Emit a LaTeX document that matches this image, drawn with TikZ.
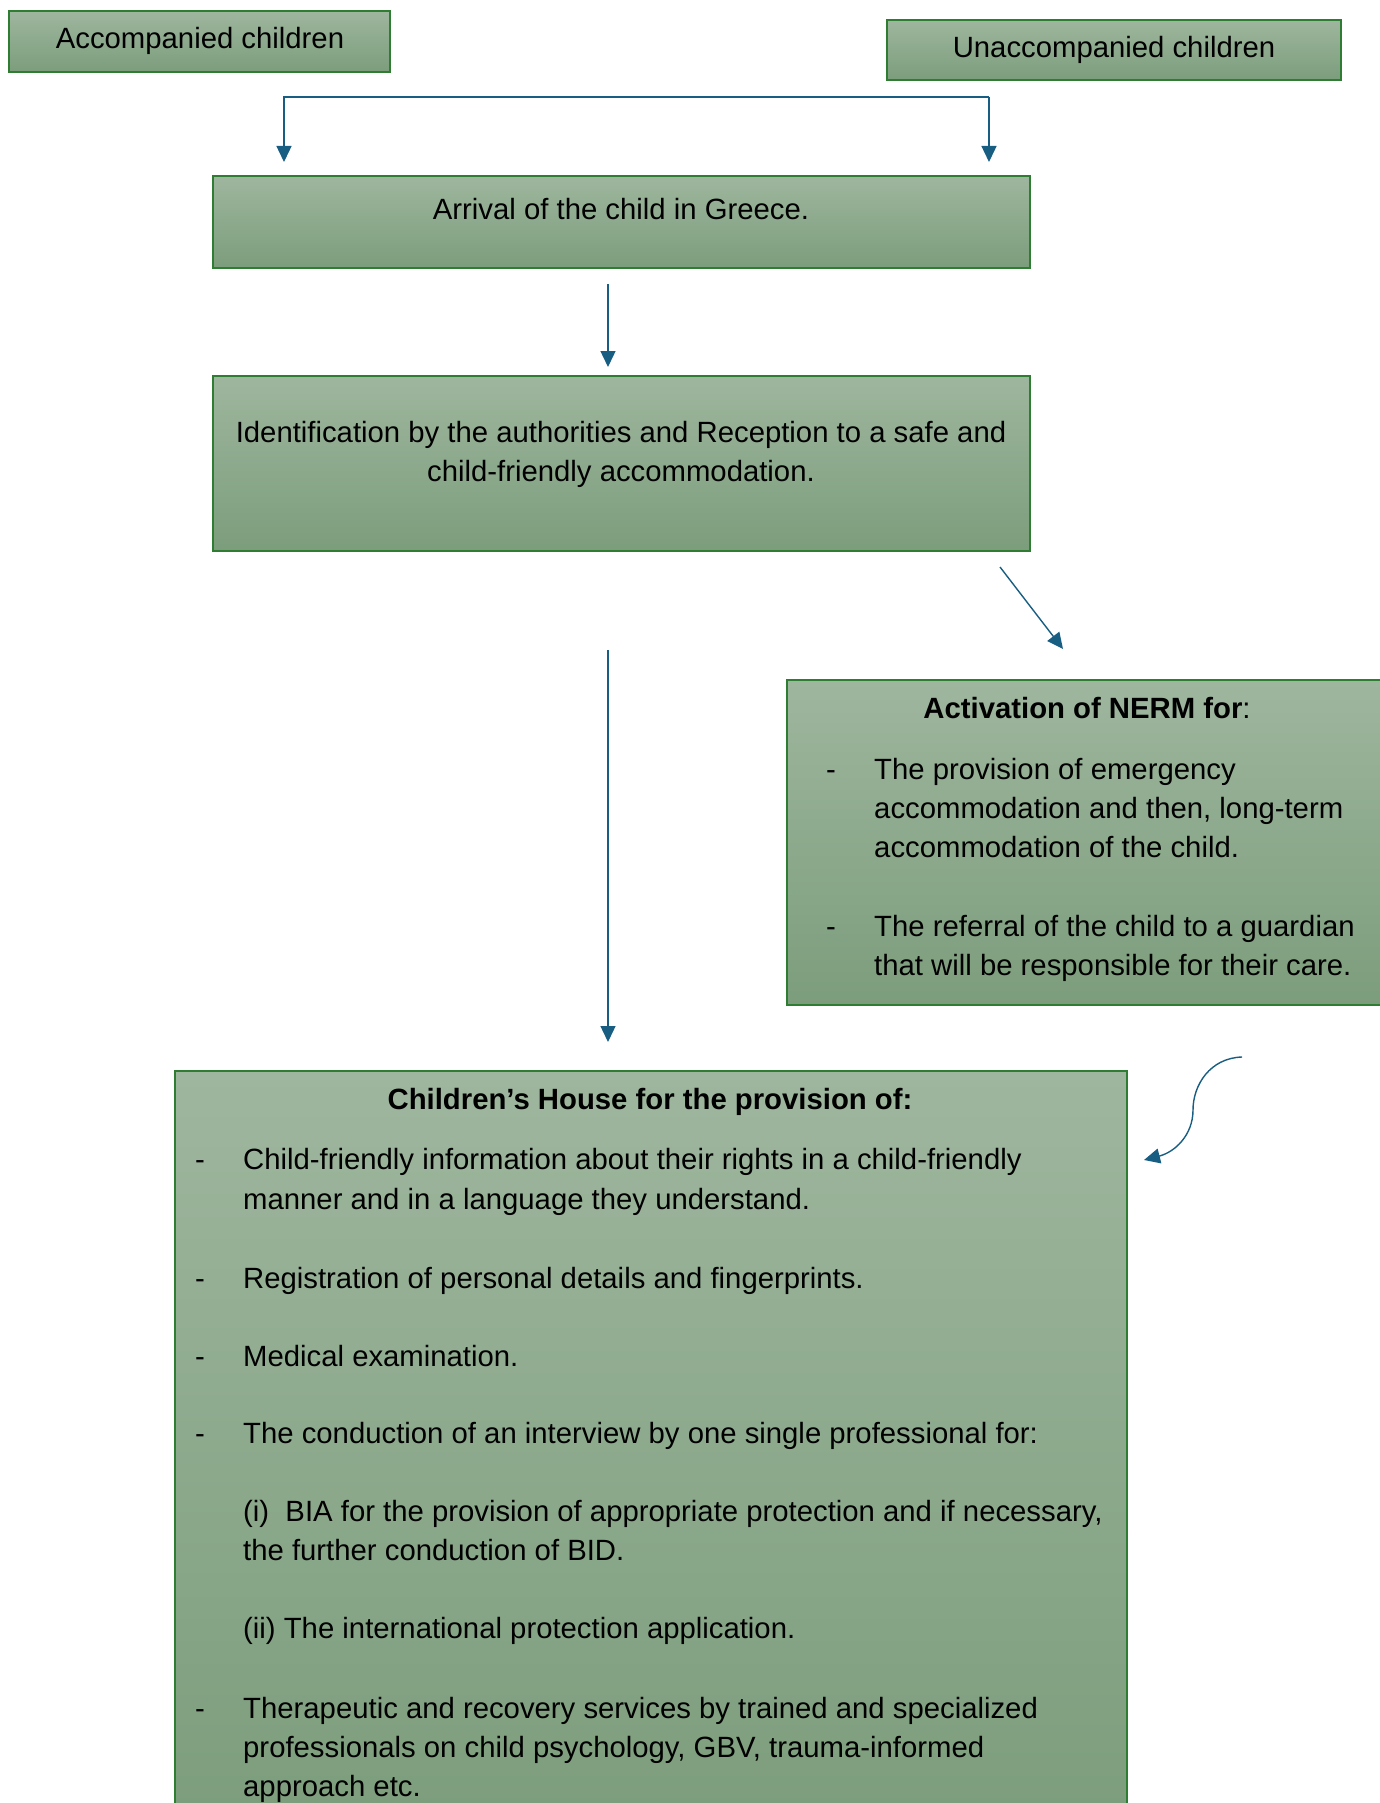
\documentclass[tikz,border=0pt]{standalone}
\usepackage{fontspec}
\setmainfont{Liberation Sans}
\usetikzlibrary{arrows.meta}
\definecolor{boxtop}{RGB}{158,182,158}
\definecolor{boxbot}{RGB}{124,157,124}
\definecolor{boxline}{RGB}{46,125,50}
\definecolor{arr}{RGB}{24,94,130}
\tikzset{
 box/.style={draw=boxline, line width=1.5pt, top color=boxtop, bottom color=boxbot, anchor=north west, inner sep=0pt, outer sep=0pt},
 txt/.style={anchor=base west, inner sep=0pt, font=\fontsize{29.3}{39}\selectfont},
 ctxt/.style={anchor=base, inner sep=0pt, font=\fontsize{29.3}{39}\selectfont},
 conn/.style={draw=arr, line width=1.4pt, -{Triangle[length=16pt,width=15pt]}},
}
\begin{document}
\begin{tikzpicture}[x=1pt,y=-1pt]
\useasboundingbox (0,0) rectangle (1380,1803);
\clip (0,0) rectangle (1380,1803);
% boxes
\node[box, minimum width=381pt, minimum height=61pt] (acc) at (9,11) {};
\node[box, minimum width=454pt, minimum height=60pt] (unacc) at (887,20) {};
\node[box, minimum width=817pt, minimum height=92pt] (arrival) at (213,176) {};
\node[box, minimum width=817pt, minimum height=175pt] (ident) at (213,376) {};
\node[box, minimum width=605pt, minimum height=325pt] (nerm) at (787,680) {};
\node[box, minimum width=952pt, minimum height=760pt] (house) at (175,1071) {};
% texts
\node[ctxt] (accT) at (200,49) {Accompanied children};
\node[ctxt] (unaccT) at (1114,58) {Unaccompanied children};
\node[ctxt] (arrT) at (621,220) {Arrival of the child in Greece.};
\node[ctxt] (idT1) at (621,442) {Identification by the authorities and Reception to a safe and};
\node[ctxt] (idT2) at (621,481) {child-friendly accommodation.};
\node[ctxt] (nermT) at (1087,718) {\textbf{Activation of NERM for}:};
\node[txt] (nd1) at (826,779) {-};
\node[txt] (n1) at (874,779) {The provision of emergency};
\node[txt] (n2) at (874,818) {accommodation and then, long-term};
\node[txt] (n3) at (874,857) {accommodation of the child.};
\node[txt] (nd2) at (826,936) {-};
\node[txt] (n4) at (874,936) {The referral of the child to a guardian};
\node[txt] (n5) at (874,975) {that will be responsible for their care.};
\node[ctxt] (houseT) at (650,1109) {\textbf{Children’s House for the provision of:}};
\node[txt] (hd1) at (195,1169) {-};
\node[txt] (h1) at (243,1169) {Child-friendly information about their rights in a child-friendly};
\node[txt] (h2) at (243,1209) {manner and in a language they understand.};
\node[txt] (hd2) at (195,1288) {-};
\node[txt] (h3) at (243,1288) {Registration of personal details and fingerprints.};
\node[txt] (hd3) at (195,1366) {-};
\node[txt] (h4) at (243,1366) {Medical examination.};
\node[txt] (hd4) at (195,1443) {-};
\node[txt] (h5) at (243,1443) {The conduction of an interview by one single professional for:};
\node[txt] (h6) at (243,1521) {(i)\ \ BIA for the provision of appropriate protection and if necessary,};
\node[txt] (h7) at (243,1560) {the further conduction of BID.};
\node[txt] (h8) at (243,1638) {(ii) The international protection application.};
\node[txt] (hd5) at (195,1718) {-};
\node[txt] (h9) at (243,1718) {Therapeutic and recovery services by trained and specialized};
\node[txt] (h10) at (243,1757) {professionals on child psychology, GBV, trauma-informed};
\node[txt] (h11) at (243,1796) {approach etc.};
% connectors
\coordinate (tl) at (284,97);
\coordinate (tr) at (989,97);
\coordinate (tlend) at (284,162);
\coordinate (trend) at (989,162);
\draw[conn] (tr) -- (tl) -- (tlend);
\draw[conn] (tr) -- (trend);
\coordinate (a1s) at (608,284);
\coordinate (a1e) at (608,367);
\draw[conn] (a1s) -- (a1e);
\coordinate (d1s) at (1000,567);
\coordinate (d1e) at (1063,649);
\draw[conn] (d1s) -- (d1e);
\coordinate (a2s) at (608,650);
\coordinate (a2e) at (608,1042);
\draw[conn] (a2s) -- (a2e);
\coordinate (cs) at (1242,1057);
\coordinate (ce) at (1144,1160);
\draw[conn] (cs) .. controls (1210,1058) and (1193,1085) .. (1193,1110) .. controls (1193,1135) and (1175,1152) .. (ce);
\end{tikzpicture}
\end{document}
